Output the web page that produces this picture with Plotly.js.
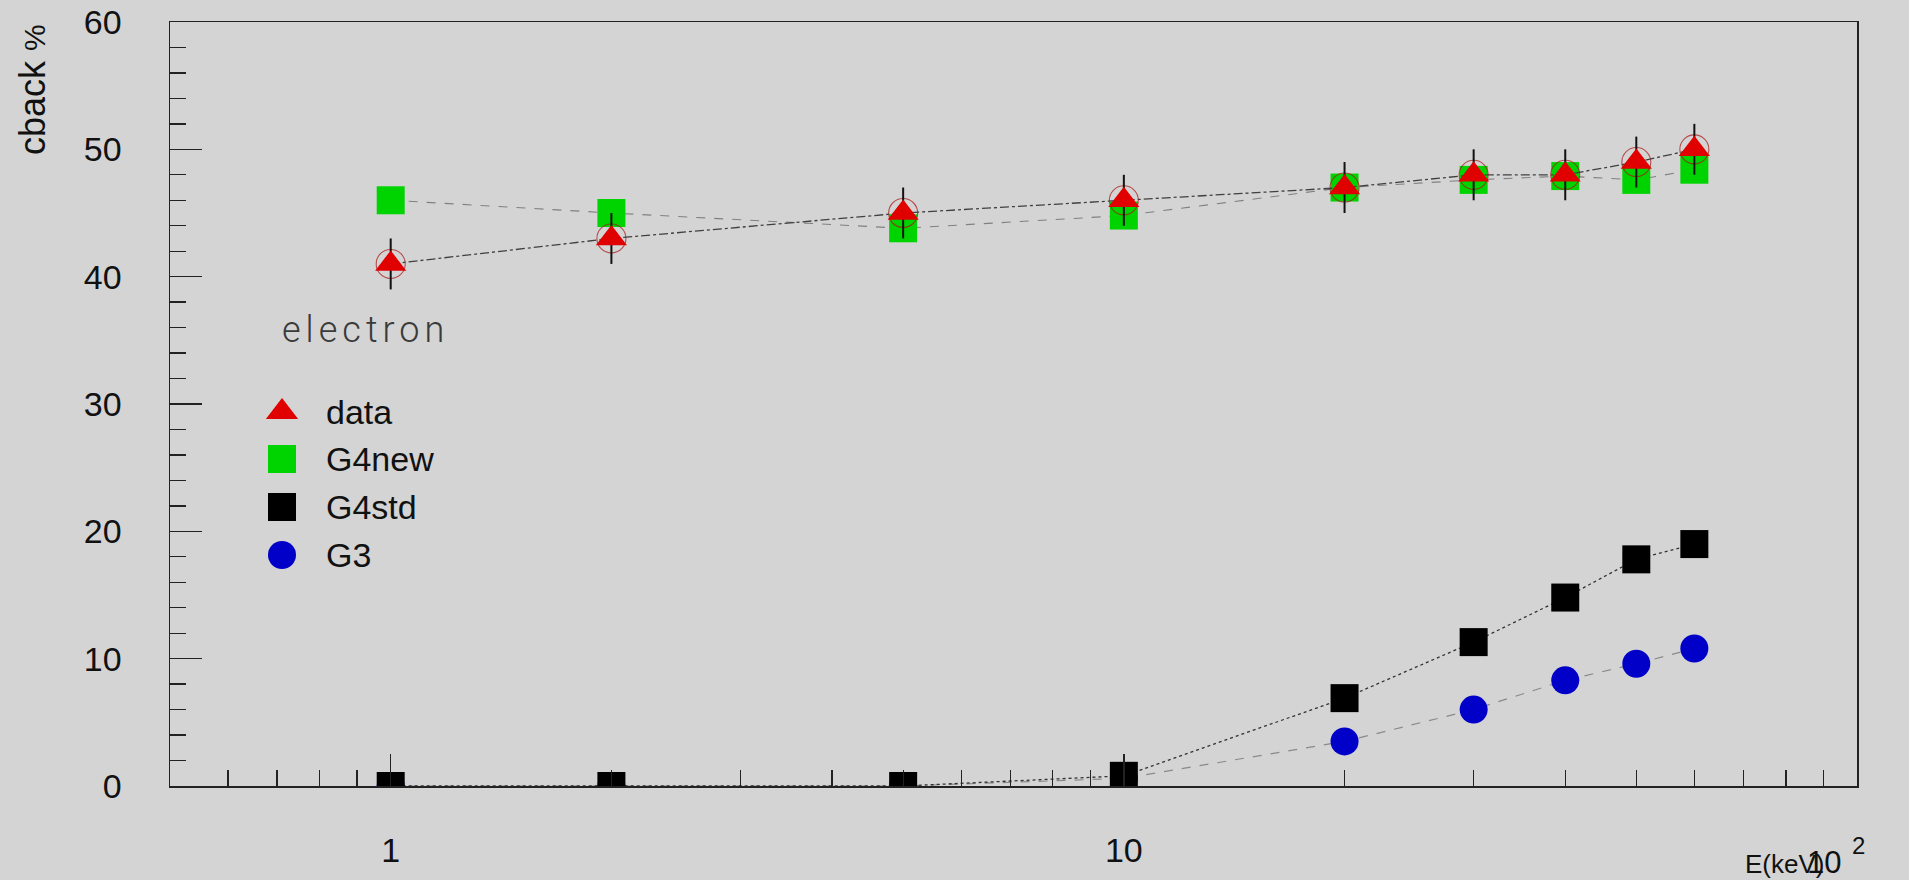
<!DOCTYPE html>
<html>
<head>
<meta charset="utf-8">
<script src="https://cdn.plot.ly/plotly-3.0.1.min.js"></script>
<style>
  html, body { margin: 0; padding: 0; background: #d4d4d4; }
  #chart { width: 1909px; height: 880px; }
</style>
</head>
<body>
<div id="chart"></div>
<script>
// Beam energies (keV)
const energy = [1, 2, 5, 10, 20, 30, 40, 50, 60];

// Backscattering coefficient (%) for electrons
const dataVals = [41, 43, 45, 46, 47, 48, 48, 49, 50];
const dataErr  = [2, 2, 2, 2, 2, 2, 2, 2, 2];
const g4newVals = [46, 45, 43.8, 44.8, 47, 47.6, 47.9, 47.6, 48.4];
const g4stdVals = [0, 0, 0, 0.8, 6.9, 11.3, 14.8, 17.8, 19.0];
const g3Vals    = [0, 0, 0, 0.6, 3.5, 6.0, 8.3, 9.6, 10.8];

// Legend entries
const legendNames   = ['data', 'G4new', 'G4std', 'G3'];
const legendSymbols = ['triangle-up', 'square', 'square', 'circle'];
const legendColors  = ['#e00000', '#00d400', '#000000', '#0000c8'];

// Axis tick labels
const xTickVals = [1, 10, 100];
const xTickText = ['1', '10', ''];

const W = 1909, H = 880;
const M = { l: 170, r: 52, t: 22, b: 94 };
const PW = W - M.l - M.r, PH = H - M.t - M.b;
const px = x => (x - M.l) / PW;          // page pixel -> paper x
const py = y => (H - M.b - y) / PH;      // page pixel -> paper y

const FONT = '"Liberation Sans", Arial, Helvetica, sans-serif';
const BG = '#d4d4d4';

// minor ticks of the log axis: 2..9 in each decade
const minorX = [];
[0.1, 1, 10].forEach(d => { for (let k = 2; k <= 9; k++) { const v = k * d; if (v > 0.5 && v < 100) minorX.push(v); } });

// legend layout (page pixels)
const legRows = [412, 459, 507, 555];
const legMarkX = 282, legTextX = 324;

const traces = [
  { x: energy, y: g3Vals, name: 'G3', mode: 'lines+markers',
    line: { color: '#8a8a8a', width: 1.2, dash: 'dash' },
    marker: { symbol: 'circle', size: 28, color: '#0000c8' } },
  { x: energy, y: g4stdVals, name: 'G4std', mode: 'lines+markers',
    line: { color: '#333333', width: 1.3, dash: 'dot' },
    marker: { symbol: 'square', size: 28, color: '#000000' } },
  { x: energy, y: g4newVals, name: 'G4new', mode: 'lines+markers',
    line: { color: '#808080', width: 1.1, dash: 'dash' },
    marker: { symbol: 'square', size: 28, color: '#00d400' } },
  { x: energy, y: dataVals, name: 'data ring', mode: 'markers',
    marker: { symbol: 'circle-open', size: 29, color: 'rgba(170,20,20,0.7)', line: { width: 1.1 } } },
  { x: energy, y: dataVals, name: 'data', mode: 'lines+markers',
    line: { color: '#404040', width: 1.3, dash: 'dashdot' },
    error_y: { type: 'data', array: dataErr, visible: true, color: '#111', thickness: 2, width: 0 },
    marker: { symbol: 'triangle-up', size: 27, color: '#e00000' } },
  // legend symbols on an overlay paper-like axis pair
  { x: legRows.map(() => px(legMarkX)), y: legRows.map(py),
    xaxis: 'x2', yaxis: 'y2', mode: 'markers', name: 'legend',
    marker: { symbol: legendSymbols, size: 28, color: legendColors } }
];

const annotations = [
  { text: 'cback <span style="font-size:30px">%</span>', xref: 'paper', yref: 'paper',
    x: px(32), y: py(90), xanchor: 'center', yanchor: 'middle', textangle: -90, showarrow: false,
    font: { family: FONT, size: 36, color: '#111' } },
  { text: 'E(keV)', xref: 'paper', yref: 'paper', x: px(1743), y: py(864),
    xanchor: 'left', yanchor: 'middle', showarrow: false,
    font: { family: FONT, size: 26, color: '#111' } },
  { text: '10', xref: 'paper', yref: 'paper', x: px(1843), y: py(862),
    xanchor: 'right', yanchor: 'middle', showarrow: false,
    font: { family: FONT, size: 31, color: '#111' } },
  { text: '2', xref: 'paper', yref: 'paper', x: px(1858), y: py(846),
    xanchor: 'center', yanchor: 'middle', showarrow: false,
    font: { family: FONT, size: 24, color: '#111' } },
  { text: '<span style="letter-spacing:5px">electron</span>', xref: 'paper', yref: 'paper',
    x: px(280), y: py(330), xanchor: 'left', yanchor: 'middle', showarrow: false,
    font: { family: 'Roboto, "DejaVu Sans", sans-serif', size: 36, color: '#3a3a3a', weight: 300 } }
];
legendNames.forEach((n, i) => {
  annotations.push({ text: n, xref: 'paper', yref: 'paper', x: px(legTextX), y: py(legRows[i]),
    xanchor: 'left', yanchor: 'middle', showarrow: false,
    font: { family: FONT, size: 34, color: '#111' } });
});

const layout = {
  width: W, height: H,
  margin: M,
  paper_bgcolor: BG, plot_bgcolor: BG,
  showlegend: false,
  hovermode: false,
  xaxis: {
    type: 'log', range: [Math.log10(0.5), 2],
    tickmode: 'array', tickvals: xTickVals, ticktext: xTickText,
    ticks: 'inside', ticklen: 32, tickwidth: 1.5, tickcolor: '#222',
    minor: { tickmode: 'array', tickvals: minorX, ticks: 'inside', ticklen: 16, tickwidth: 1.3, tickcolor: '#222' },
    showgrid: false, zeroline: false,
    showline: true, mirror: true, linecolor: '#222', linewidth: 1.5,
    tickfont: { family: FONT, size: 34, color: '#111' },
    ticklabelstandoff: 34
  },
  yaxis: {
    range: [0, 60], tickmode: 'linear', tick0: 0, dtick: 10,
    ticks: 'inside', ticklen: 32, tickwidth: 1.5, tickcolor: '#222',
    minor: { dtick: 2, ticks: 'inside', ticklen: 16, tickwidth: 1.3, tickcolor: '#222' },
    showgrid: false, zeroline: false,
    showline: true, mirror: true, linecolor: '#222', linewidth: 1.5,
    tickfont: { family: FONT, size: 34, color: '#111' },
    ticklabelstandoff: 40
  },
  xaxis2: { overlaying: 'x', anchor: 'y2', range: [0, 1], visible: false, fixedrange: true },
  yaxis2: { overlaying: 'y', anchor: 'x2', range: [0, 1], visible: false, fixedrange: true },
  annotations: annotations
};

Plotly.newPlot('chart', traces, layout, { displayModeBar: false, staticPlot: true });
</script>
</body>
</html>
